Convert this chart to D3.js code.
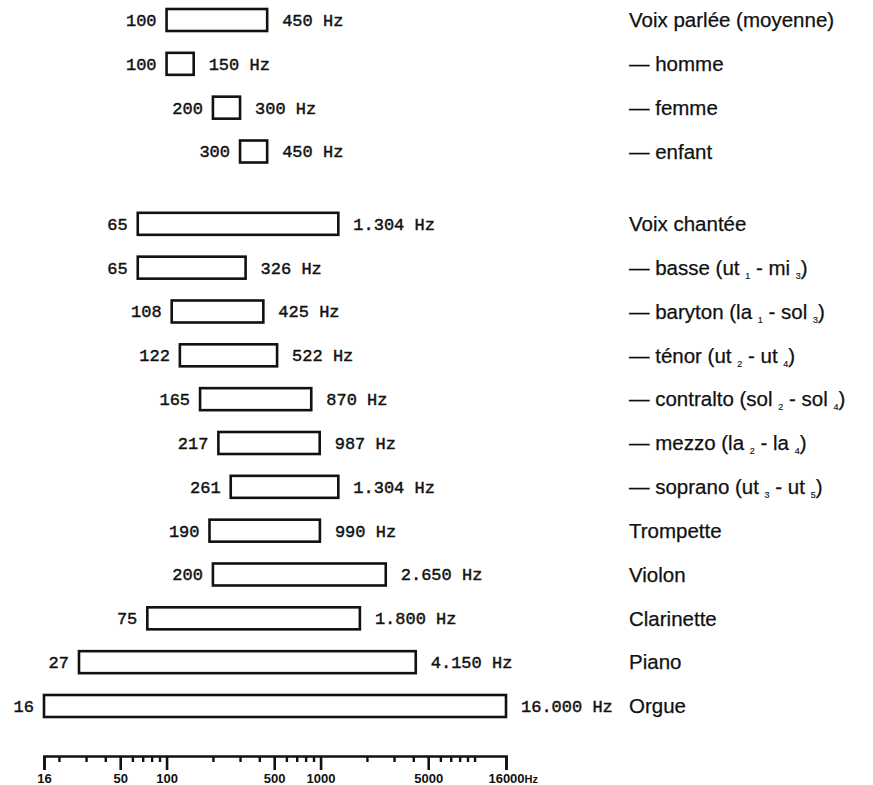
<!DOCTYPE html>
<html>
<head>
<meta charset="utf-8">
<script src="https://cdn.jsdelivr.net/npm/d3@7"></script>
<style>
  html, body { margin: 0; padding: 0; background: #fff; }
  svg { display: block; }
</style>
</head>
<body>
<svg id="chart" width="873" height="785"></svg>
<script>
// ---- data ----
const categories = [
  "Voix parlée (moyenne)", "— homme", "— femme", "— enfant",
  "Voix chantée", "— basse (ut _1 - mi _3)", "— baryton (la _1 - sol _3)",
  "— ténor (ut _2 - ut _4)", "— contralto (sol _2 - sol _4)",
  "— mezzo (la _2 - la _4)", "— soprano (ut _3 - ut _5)",
  "Trompette", "Violon", "Clarinette", "Piano", "Orgue"
];
const lowHz  = [100, 100, 200, 300, 65, 65, 108, 122, 165, 217, 261, 190, 200, 75, 27, 16];
const highHz = [450, 150, 300, 450, 1304, 326, 425, 522, 870, 987, 1304, 990, 2650, 1800, 4150, 16000];
const lowLabels  = ["100", "100", "200", "300", "65", "65", "108", "122", "165", "217", "261", "190", "200", "75", "27", "16"];
const highLabels = ["450 Hz", "150 Hz", "300 Hz", "450 Hz", "1.304 Hz", "326 Hz", "425 Hz", "522 Hz",
                    "870 Hz", "987 Hz", "1.304 Hz", "990 Hz", "2.650 Hz", "1.800 Hz", "4.150 Hz", "16.000 Hz"];
const axisTicks = [16, 20, 30, 40, 50, 60, 70, 80, 90, 100, 200, 300, 400, 500, 600, 700, 800, 900,
                   1000, 2000, 3000, 4000, 5000, 6000, 7000, 8000, 9000, 10000, 16000];
const axisMajor = [16, 50, 100, 500, 1000, 5000, 16000];
const axisUnit = "Hz";

// ---- layout ----
const svg = d3.select("#chart");
svg.append("rect").attr("width", 873).attr("height", 785).attr("fill", "#fff");

const x = d3.scaleLog().domain([16, 16000]).range([44, 506]);
const rows = categories.map((c, i) => ({
  cat: c, lo: lowHz[i], hi: highHz[i], loLab: lowLabels[i], hiLab: highLabels[i],
  slot: i + (i >= 4 ? 0.65 : 0)
}));
const y = d3.scaleLinear().domain([0, 15.65]).range([20, 706]);
const barH = 22;
const ink = "#111";

const g = svg.append("g");

g.selectAll("rect.bar").data(rows).join("rect")
  .attr("class", "bar")
  .attr("x", d => x(d.lo))
  .attr("y", d => y(d.slot) - barH / 2)
  .attr("width", d => x(d.hi) - x(d.lo))
  .attr("height", barH)
  .attr("fill", "#fff")
  .attr("stroke", ink)
  .attr("stroke-width", 2.6);

const mono = "'Liberation Mono', 'DejaVu Sans Mono', monospace";
function monoText(sel) {
  sel.attr("y", d => y(d.slot))
    .attr("dy", "0.35em")
    .attr("font-family", mono)
    .attr("font-size", 17)
    .attr("fill", ink)
    .attr("stroke", ink)
    .attr("stroke-width", 0.45);
}
g.selectAll("text.lo").data(rows).join("text")
  .attr("class", "lo")
  .attr("x", d => x(d.lo) - 10)
  .attr("text-anchor", "end")
  .call(monoText)
  .text(d => d.loLab);

g.selectAll("text.hi").data(rows).join("text")
  .attr("class", "hi")
  .attr("x", d => x(d.hi) + 15)
  .attr("text-anchor", "start")
  .call(monoText)
  .text(d => d.hiLab);

// category labels with subscripts
const catText = g.selectAll("text.cat").data(rows).join("text")
  .attr("class", "cat")
  .attr("x", 629)
  .attr("y", d => y(d.slot))
  .attr("dy", "0.35em")
  .attr("font-family", "'Liberation Sans', Arial, sans-serif")
  .attr("font-size", 20.5)
  .attr("fill", ink)
  .attr("stroke", ink)
  .attr("stroke-width", 0.25);
catText.each(function(d) {
  const t = d3.select(this);
  const parts = d.cat.split(/(_\d)/).filter(p => p);
  let lowered = false;
  parts.forEach(p => {
    if (p[0] === "_") {
      t.append("tspan").attr("font-size", 9).attr("stroke-width", 0.15).attr("dy", 4).text(p.slice(1));
      lowered = true;
    } else {
      const s = t.append("tspan").text(p);
      if (lowered) { s.attr("dy", -4); lowered = false; }
    }
  });
});

// ---- axis ----
const axisY = 756;
const axis = d3.axisBottom(x)
  .tickValues(axisTicks)
  .tickSizeOuter(0)
  .tickSize(14)
  .tickPadding(6)
  .tickFormat(d => axisMajor.includes(d) ? String(d) : "");
const ax = svg.append("g").attr("transform", `translate(0,${axisY})`).call(axis);
ax.select(".domain").attr("stroke", ink).attr("stroke-width", 2.6);
ax.selectAll(".tick line")
  .attr("stroke", ink)
  .attr("stroke-width", d => axisMajor.includes(d) ? 2.6 : 2.4)
  .attr("y2", d => axisMajor.includes(d) ? 14 : 6);
ax.selectAll(".tick text")
  .attr("font-family", "'Liberation Sans', Arial, sans-serif")
  .attr("font-weight", "bold")
  .attr("font-size", 13)
  .attr("fill", ink)
  .attr("y", 18);
ax.selectAll(".tick").filter(d => d === 16000).select("text").each(function() {
  const t = d3.select(this);
  const w = this.getComputedTextLength();
  t.attr("text-anchor", "start").attr("x", -w / 2);
  t.append("tspan").attr("font-size", 11).text(axisUnit);
});
</script>
</body>
</html>
